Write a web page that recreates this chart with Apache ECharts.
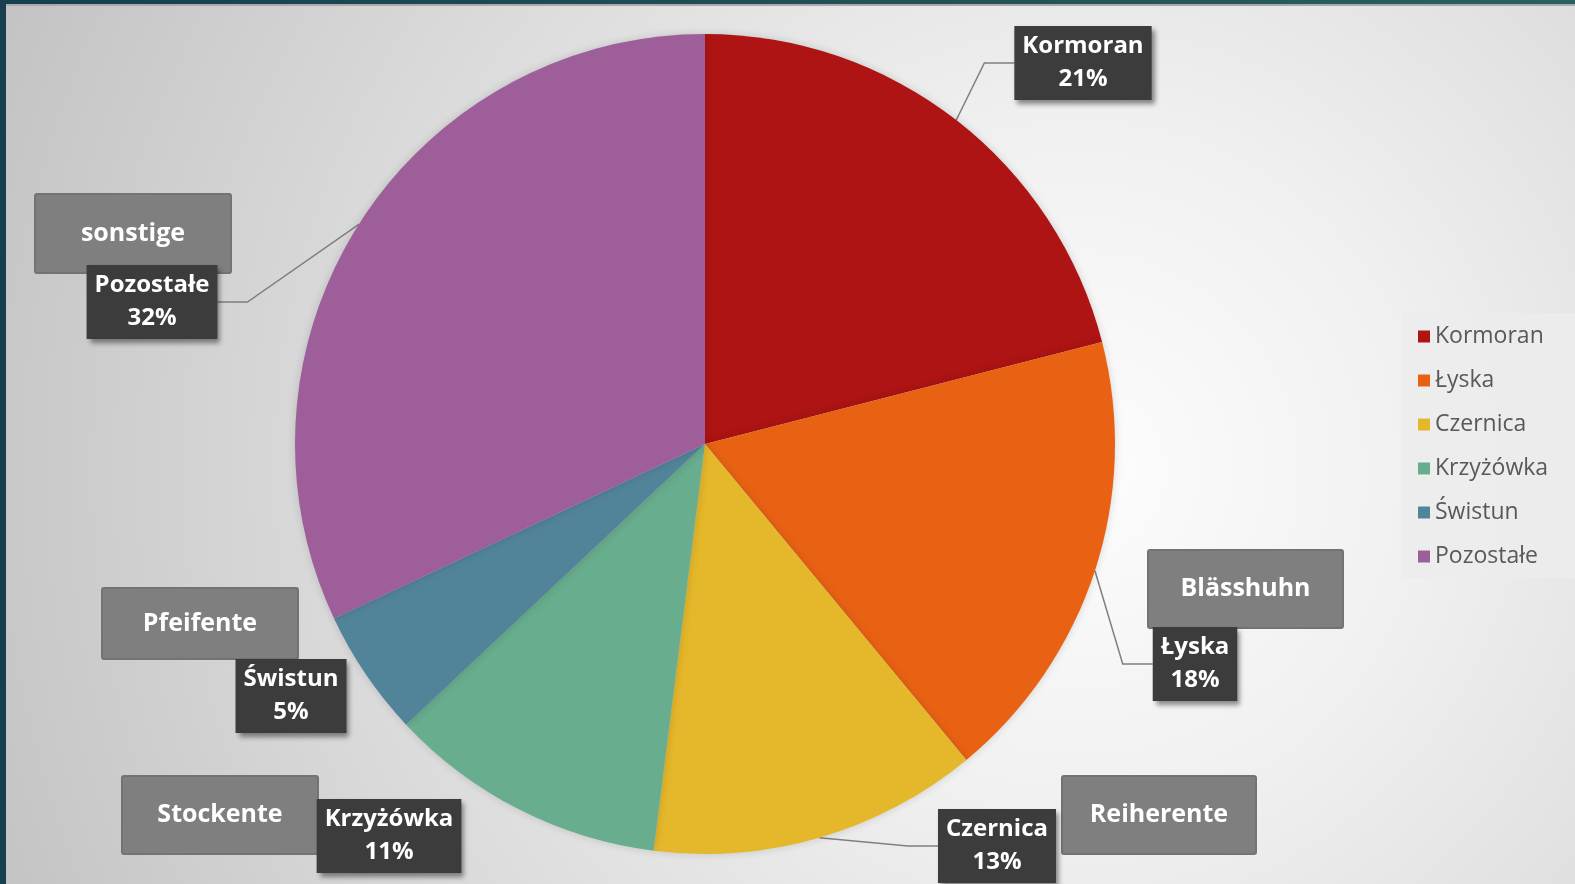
<!DOCTYPE html>
<html>
<head>
<meta charset="utf-8">
<script src="https://cdn.jsdelivr.net/npm/echarts@6/dist/echarts.min.js"></script>
<style>
html, body { margin: 0; padding: 0; }
#main { width: 1575px; height: 884px; }
</style>
</head>
<body>
<div id="main"></div>
<script>
// dane
var names = ['Kormoran', 'Łyska', 'Czernica', 'Krzyżówka', 'Świstun', 'Pozostałe'];
var values = [21, 18, 13, 11, 5, 32];
var colors = ['#ae1413', '#e96214', '#e5b72a', '#68ad8e', '#528499', '#9d5e9a'];
var germanNames = ['sonstige', 'Blässhuhn', 'Reiherente', 'Stockente', 'Pfeifente'];

// pozycje etykiet (środek ramki)
var labelPos = [[1083, 63], [1195, 664], [997, 846], [389, 836], [291, 696], [152, 302]];
var showLine = [true, true, true, false, false, true];
// ramki z nazwami niemieckimi [x, y, w, h]
var boxPos = [[35, 194, 196, 79], [1148, 550, 195, 78], [1062, 776, 194, 78], [122, 776, 196, 78], [102, 588, 196, 71]];

var myChart = echarts.init(document.getElementById('main'));

var graphics = [
	{ type: 'rect', shape: { x: 0, y: 0, width: 6, height: 884 }, style: { fill: '#173f4f' }, z: 100 },
	{ type: 'rect', shape: { x: 0, y: 0, width: 1575, height: 4 },
		style: { fill: new echarts.graphic.LinearGradient(0, 0, 1, 0, [{ offset: 0, color: '#173f4f' }, { offset: 1, color: '#2a5f5f' }]) }, z: 100 },
	{ type: 'rect', shape: { x: 6, y: 4, width: 1569, height: 2 }, style: { fill: '#a9abab' }, z: 100 },
	// tło legendy
	{ type: 'rect', shape: { x: 1402, y: 313, width: 173, height: 265 }, style: { fill: 'rgba(236,236,236,0.9)' }, z: -1 }
];
germanNames.forEach(function (n, i) {
	var b = boxPos[i];
	graphics.push({
		type: 'group',
		z: 200,
		children: [{
			type: 'rect',
			shape: { x: b[0], y: b[1], width: b[2], height: b[3], r: 2 },
			style: { fill: '#7f7f7f', stroke: '#737373', lineWidth: 2 }
		}, {
			type: 'text',
			x: b[0] + b[2] / 2,
			y: b[1] + b[3] / 2,
			style: {
				text: n,
				fill: '#ffffff',
				font: 'bold 25px "Open Sans"',
				align: 'center',
				verticalAlign: 'middle'
			}
		}]
	});
});

option = {
	animation: false,
	backgroundColor: new echarts.graphic.RadialGradient(1080, 470, 1150, [
		{ offset: 0, color: '#fdfdfd' },
		{ offset: 0.3, color: '#f0f0f0' },
		{ offset: 1, color: '#c4c4c4' }
	], true),
	color: colors,
	legend: {
		orient: 'vertical',
		left: 1413,
		top: 320,
		itemWidth: 12,
		itemHeight: 12,
		itemGap: 21,
		icon: 'rect',
		textStyle: {
			color: '#595959',
			fontSize: 23,
			fontFamily: 'Open Sans'
		},
		data: names
	},
	graphic: graphics,
	series: [{
		type: 'pie',
		center: [705, 444],
		radius: 410,
		startAngle: 90,
		clockwise: true,
		percentPrecision: 0,
		itemStyle: {
			shadowBlur: 8,
			shadowColor: 'rgba(0,0,0,0.15)'
		},
		label: {
			show: true,
			formatter: '{b}\n{d}%',
			color: '#ffffff',
			fontFamily: 'Open Sans',
			fontWeight: 'bold',
			fontSize: 24,
			lineHeight: 33,
			backgroundColor: '#3c3c3c',
			padding: [4, 8],
			align: 'center',
			shadowColor: 'rgba(0,0,0,0.45)',
			shadowBlur: 5,
			shadowOffsetX: 3,
			shadowOffsetY: 4
		},
		labelLine: {
			show: true,
			lineStyle: { color: '#7f7f7f', width: 1.5 }
		},
		labelLayout: function (params) {
			var p = labelPos[params.dataIndex];
			return { x: p[0], y: p[1], align: 'center', verticalAlign: 'middle' };
		},
		data: names.map(function (n, i) {
			return { name: n, value: values[i], labelLine: { show: showLine[i] } };
		})
	}]
};

myChart.setOption(option);
window.addEventListener('resize', function () {
	myChart.resize();
});
</script>
</body>
</html>
